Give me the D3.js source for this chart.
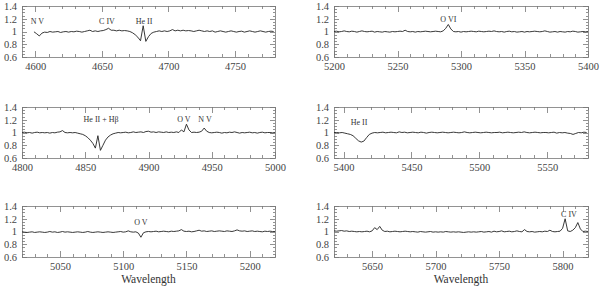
<!DOCTYPE html>
<html>
<head>
<meta charset="utf-8">
<script src="https://cdn.jsdelivr.net/npm/d3@7"></script>
<style>
body { margin: 0; background: #fff; }
text { font-family: "Liberation Serif", "DejaVu Serif", serif; }
</style>
</head>
<body>
<div id="chart"></div>
<script>
// normalised spectra, one value every 2 A from the start wavelength
var start4600 = 4599;
var flux4600 = [0.995, 0.965, 0.93, 0.975, 0.99, 0.985, 1.0, 0.99, 0.995, 1.0,
  0.985, 0.995, 1.0, 0.99, 1.0, 0.995, 1.005, 1.0, 0.99, 1.0,
  1.01, 1.02, 1.0, 1.01, 1.0, 1.01, 1.015, 1.03, 1.05, 1.02,
  1.02, 1.01, 1.02, 1.01, 1.015, 1.01, 1.0, 0.98, 0.95, 0.91,
  0.855, 1.09, 0.845, 0.92, 0.97, 0.99, 1.0, 1.01, 1.0, 1.01,
  1.0, 1.01, 1.03, 1.01, 1.02, 1.01, 1.02, 1.01, 1.015, 1.01,
  1.0, 1.01, 1.02, 1.01, 1.0, 1.01, 1.0, 1.01, 0.99, 1.0,
  1.01, 1.0, 0.99, 1.0, 1.01, 1.0, 0.99, 1.0, 1.005, 0.99,
  1.0, 1.01, 1.0, 0.99, 1.0, 1.01, 1.0, 0.99, 1.0, 1.005, 1.0];

var start5200 = 5200;
var flux5200 = [1.0, 1.005, 0.995, 1.0, 1.01, 1.0, 0.995, 1.005, 1.0, 0.99,
  1.0, 1.01, 1.0, 0.995, 1.0, 1.005, 0.99, 1.0, 0.995, 0.99,
  1.0, 0.995, 0.99, 1.0, 0.995, 1.0, 1.005, 1.0, 1.02, 1.0,
  0.995, 1.0, 0.99, 1.0, 0.995, 1.0, 1.005, 1.0, 0.995, 1.0,
  1.005, 1.0, 0.995, 1.01, 1.05, 1.11, 1.04, 1.0, 0.995, 1.0,
  0.99, 1.0, 0.995, 1.0, 1.005, 1.0, 0.995, 1.005, 1.0, 0.995,
  1.0, 1.005, 1.0, 1.01, 1.0, 0.995, 1.0, 0.99, 1.0, 1.005,
  0.995, 1.0, 0.99, 0.995, 1.0, 0.99, 1.0, 0.995, 1.0, 1.005,
  1.0, 0.995, 1.0, 1.01, 1.0, 0.99, 0.995, 1.0, 0.99, 1.0,
  0.995, 0.99, 1.0, 0.995, 1.005, 1.0, 0.99, 0.995, 1.0, 0.995, 1.0];

var start4800 = 4800;
var flux4800 = [1.0, 1.005, 0.995, 1.0, 0.99, 1.0, 1.005, 0.995, 1.0, 0.995,
  1.0, 0.99, 1.0, 0.995, 1.005, 1.01, 1.03, 1.0, 0.995, 1.0,
  0.995, 1.0, 0.99, 0.98, 0.97, 0.95, 0.92, 0.88, 0.83, 0.755,
  0.95, 0.72, 0.8, 0.88, 0.93, 0.96, 0.98, 0.99, 1.0, 0.995,
  1.0, 1.005, 0.995, 1.0, 1.01, 1.0, 1.005, 1.01, 1.0, 1.015,
  1.02, 1.005, 1.01, 1.0, 1.01, 1.005, 1.0, 1.01, 1.0, 1.005,
  1.0, 1.01, 1.0, 1.04, 1.01, 1.13, 1.04, 1.0, 1.005, 1.0,
  1.005, 1.02, 1.07, 1.02, 1.0, 0.995, 1.0, 1.005, 1.0, 0.99,
  1.0, 0.995, 1.005, 1.0, 1.01, 1.0, 0.99, 1.0, 0.995, 1.0,
  1.005, 0.995, 1.0, 0.99, 1.0, 1.005, 0.995, 1.0, 1.0, 0.995, 1.0];

var start5400 = 5393;
var flux5400 = [1.0, 1.0, 0.995, 1.0, 0.99, 0.98, 0.97, 0.95, 0.91, 0.87,
  0.85, 0.865, 0.92, 0.97, 0.99, 1.0, 0.995, 1.0, 1.005, 0.995,
  1.0, 1.005, 1.0, 0.995, 1.01, 1.0, 1.005, 0.995, 1.0, 1.005,
  1.0, 0.995, 1.005, 1.0, 0.99, 1.0, 1.005, 1.0, 0.995, 1.0,
  1.005, 1.0, 0.995, 1.0, 1.005, 1.0, 0.995, 1.0, 1.01, 1.0,
  0.995, 1.0, 1.005, 1.0, 0.995, 1.0, 1.005, 1.0, 0.995, 1.0,
  1.0, 1.005, 0.995, 1.0, 1.005, 1.0, 0.995, 1.0, 1.005, 1.0,
  1.01, 1.0, 0.995, 1.0, 1.005, 1.0, 0.995, 1.0, 1.0, 0.995,
  1.0, 1.005, 0.99, 1.0, 0.995, 1.0, 0.99, 0.985, 0.97, 0.985,
  1.0, 0.995, 1.005, 1.0];

var start5050 = 5020;
var flux5050 = [0.995, 0.99, 0.985, 0.99, 0.995, 0.985, 0.99, 0.995, 0.99, 0.985,
  0.99, 1.0, 0.99, 0.995, 0.985, 0.99, 1.0, 0.99, 0.995, 0.99,
  0.985, 0.99, 0.995, 0.99, 0.985, 0.99, 1.0, 0.99, 0.985, 0.99,
  0.995, 0.99, 0.985, 0.99, 0.995, 0.99, 0.985, 0.99, 0.995, 1.0,
  0.99, 0.995, 1.01, 0.995, 0.99, 0.995, 0.975, 0.91, 0.98, 0.995,
  1.0, 0.995, 1.0, 1.005, 0.995, 1.0, 1.005, 1.0, 0.995, 1.005,
  1.0, 1.005, 1.01, 1.03, 1.005, 1.0, 1.005, 0.995, 1.0, 1.01,
  1.02, 1.005, 1.01, 1.0, 1.005, 1.01, 1.0, 1.005, 1.01, 1.005,
  1.0, 1.01, 1.005, 1.0, 1.01, 1.025, 1.01, 1.005, 1.01, 1.0,
  1.005, 1.01, 1.0, 1.005, 1.0, 0.995, 1.005, 1.0, 1.005, 1.0, 1.0];

var start5650 = 5620;
var flux5650 = [1.01, 1.005, 1.01, 1.015, 1.005, 1.01, 1.0, 1.005, 1.0, 0.995,
  1.0, 0.995, 1.0, 1.005, 0.995, 1.01, 1.06, 1.03, 1.08, 1.02,
  1.0, 1.005, 0.995, 1.0, 1.005, 1.0, 0.995, 1.0, 1.005, 1.0,
  0.995, 1.0, 0.995, 0.99, 1.0, 0.995, 0.99, 0.995, 1.0, 0.99,
  0.995, 0.99, 0.995, 0.99, 1.0, 0.995, 0.99, 0.995, 0.99, 0.995,
  0.99, 0.985, 0.99, 0.995, 0.99, 0.995, 0.99, 0.995, 1.0, 0.99,
  0.995, 1.0, 0.99, 1.005, 0.995, 1.0, 1.01, 0.995, 1.0, 1.005,
  0.995, 1.0, 1.01, 1.0, 0.995, 1.03, 1.0, 0.995, 1.0, 0.99,
  0.995, 1.0, 0.995, 1.005, 1.0, 1.02, 1.0, 0.995, 1.0, 1.005,
  1.05, 1.2, 1.01, 1.0, 1.02, 1.06, 1.14, 1.04, 1.0, 1.005, 1.0];

// line identifications: [label, wavelength, flux]
var lines4600 = [["N V", 4601.6, 1.165], ["C IV", 4653.8, 1.165], ["He II", 4681.6, 1.165]];
var lines5200 = [["O VI", 5290, 1.196]];
var lines4800 = [["He II + H\u03b2", 4862.5, 1.21], ["O V", 4928, 1.21], ["N V", 4944.7, 1.21]];
var lines5400 = [["He II", 5411.4, 1.165]];
var lines5050 = [["O V", 5114, 1.149]];
var lines5650 = [["C IV", 5805, 1.27]];

var yMajor = [0.6, 0.8, 1, 1.2, 1.4];
var yMinor = [0.65, 0.7, 0.75, 0.85, 0.9, 0.95, 1.05, 1.1, 1.15, 1.25, 1.3, 1.35];

var panels = [
  {start: start4600, flux: flux4600, domain: [4590, 4780], lines: lines4600, col: 0, row: 0},
  {start: start5200, flux: flux5200, domain: [5200, 5400], lines: lines5200, col: 1, row: 0},
  {start: start4800, flux: flux4800, domain: [4800, 5000], lines: lines4800, col: 0, row: 1},
  {start: start5400, flux: flux5400, domain: [5393, 5580], lines: lines5400, col: 1, row: 1},
  {start: start5050, flux: flux5050, domain: [5020, 5220], lines: lines5050, col: 0, row: 2},
  {start: start5650, flux: flux5650, domain: [5620, 5820], lines: lines5650, col: 1, row: 2}
];

var colX = [22, 334], colW = [253, 254];
var rowY = [6, 107, 206], plotH = 51;
var step = 2;

var svg = d3.select("#chart").append("svg")
    .attr("width", 600)
    .attr("height", 286);

function noDomain(g) { g.select(".domain").remove(); }

panels.forEach(function(p, k) {
  var x0 = colX[p.col], y0 = rowY[p.row];
  var x = d3.scaleLinear().domain(p.domain).range([x0, x0 + colW[p.col]]);
  var y = d3.scaleLinear().domain([0.6, 1.4]).range([y0 + plotH, y0]);

  var xMajor = d3.range(Math.ceil(p.domain[0] / 50) * 50, p.domain[1] + 0.01, 50);
  var xMinor = d3.range(Math.ceil(p.domain[0] / 10) * 10, p.domain[1] + 0.01, 10)
      .filter(function(v) { return v % 50 !== 0; });

  var g = svg.append("g").attr("class", "panel");

  // clip for the spectrum
  svg.append("clipPath").attr("id", "clip" + k)
    .append("rect").attr("x", x0).attr("y", y0).attr("width", colW[p.col]).attr("height", plotH);

  var axes = g.append("g")
      .attr("stroke", "#777")
      .attr("shape-rendering", "crispEdges");

  // bottom
  axes.append("g").attr("transform", "translate(0," + (y0 + plotH) + ")")
    .call(d3.axisBottom(x).tickValues(xMajor).tickSize(-6).tickPadding(6).tickFormat(d3.format("d")))
    .call(noDomain);
  axes.append("g").attr("transform", "translate(0," + (y0 + plotH) + ")")
    .call(d3.axisBottom(x).tickValues(xMinor).tickSize(-3).tickFormat(""))
    .call(noDomain);
  // top
  axes.append("g").attr("transform", "translate(0," + y0 + ")")
    .call(d3.axisTop(x).tickValues(xMajor).tickSize(-6).tickFormat(""))
    .call(noDomain);
  axes.append("g").attr("transform", "translate(0," + y0 + ")")
    .call(d3.axisTop(x).tickValues(xMinor).tickSize(-3).tickFormat(""))
    .call(noDomain);
  // left
  axes.append("g").attr("transform", "translate(" + x0 + ",0)")
    .call(d3.axisLeft(y).tickValues(yMajor).tickSize(-5).tickPadding(5).tickFormat(d3.format("~g")))
    .call(noDomain);
  axes.append("g").attr("transform", "translate(" + x0 + ",0)")
    .call(d3.axisLeft(y).tickValues(yMinor).tickSize(-2.5).tickFormat(""))
    .call(noDomain);
  // right
  axes.append("g").attr("transform", "translate(" + (x0 + colW[p.col]) + ",0)")
    .call(d3.axisRight(y).tickValues(yMajor).tickSize(-5).tickFormat(""))
    .call(noDomain);
  axes.append("g").attr("transform", "translate(" + (x0 + colW[p.col]) + ",0)")
    .call(d3.axisRight(y).tickValues(yMinor).tickSize(-2.5).tickFormat(""))
    .call(noDomain);

  axes.selectAll(".tick line").attr("stroke", "#777").attr("stroke-width", 0.8);
  axes.selectAll(".tick text")
    .attr("fill", "#444")
    .attr("stroke", "none")
    .style("font-family", "'Liberation Serif', serif")
    .style("font-size", "10.5px");

  // frame
  g.append("rect")
    .attr("x", x0).attr("y", y0)
    .attr("width", colW[p.col]).attr("height", plotH)
    .attr("fill", "none")
    .attr("stroke", "#777")
    .attr("stroke-width", 0.8)
    .attr("shape-rendering", "crispEdges");

  // spectrum
  var line = d3.line()
      .x(function(d, i) { return x(p.start + step * i); })
      .y(function(d) { return y(d); });

  g.append("path")
    .datum(p.flux)
    .attr("clip-path", "url(#clip" + k + ")")
    .attr("fill", "none")
    .attr("stroke", "#222")
    .attr("stroke-width", 0.9)
    .attr("d", line);

  // line identifications
  g.selectAll("text.ident")
    .data(p.lines)
    .enter().append("text")
    .attr("class", "ident")
    .attr("x", function(d) { return x(d[1]); })
    .attr("y", function(d) { return y(d[2]); })
    .attr("dy", "0.35em")
    .attr("text-anchor", "middle")
    .attr("fill", "#333")
    .style("font-size", "8px")
    .text(function(d) { return d[0]; });

  // axis title under bottom row
  if (p.row === 2) {
    g.append("text")
      .attr("x", x0 + colW[p.col] / 2)
      .attr("y", 283)
      .attr("text-anchor", "middle")
      .attr("fill", "#333")
      .style("font-size", "11.5px")
      .text("Wavelength");
  }
});
</script>
</body>
</html>
